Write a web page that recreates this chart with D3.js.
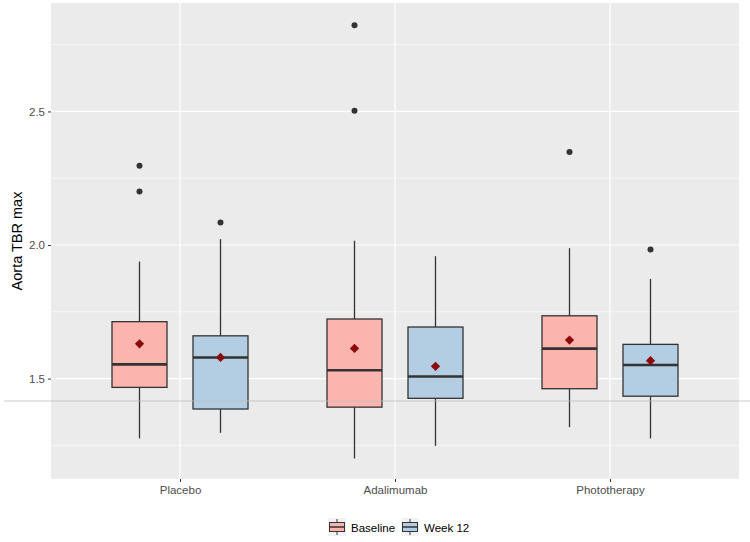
<!DOCTYPE html>
<html><head><meta charset="utf-8">
<script src="https://cdn.jsdelivr.net/npm/d3@7"></script>
<style>body{margin:0;background:#fff}svg{display:block;font-family:"Liberation Sans",Arial,Helvetica,sans-serif}</style>
</head><body><svg id="c" width="750" height="542"></svg>
<script>
const categories = ["Placebo","Adalimumab","Phototherapy"];
const groups = ["Baseline","Week 12"];
const groupColors = ["#FBB4AE","#B3CDE3"];
// per category x group: [whiskerLow, q1, median, q3, whiskerHigh]
const baselineStats = [[1.276,1.467,1.553,1.713,1.938],[1.201,1.393,1.531,1.723,2.016],[1.318,1.462,1.612,1.735,1.988]];
const week12Stats   = [[1.297,1.386,1.579,1.660,2.022],[1.248,1.426,1.508,1.693,1.958],[1.276,1.434,1.551,1.628,1.873]];
const baselineMeans = [1.630,1.613,1.644];
const week12Means   = [1.579,1.546,1.567];
const baselineOutliers = [[2.297,2.200],[2.823,2.503],[2.348]];
const week12Outliers   = [[2.084],[],[1.983]];
const yTicks = [1.5,2.0,2.5];
const yMinor = [1.25,1.75,2.25,2.75];
const yTitle = "Aorta TBR max";
const artifactLine = 1.416;

const svg = d3.select("#c");
const L=51,R=739,T=3,B=479;
const x = d3.scalePoint().domain(categories).range([L,R]).padding(0.6);
const xg = d3.scalePoint().domain(groups).range([-40.5,40.5]);
const y = d3.scaleLinear().domain([1.124,2.906]).range([B,T]);
const color = d3.scaleOrdinal().domain(groups).range(groupColors);
const bw = 55;

svg.append("rect").attr("x",L).attr("y",T).attr("width",R-L).attr("height",B-T).attr("fill","#EBEBEB");
svg.append("g").selectAll("line").data(yMinor).join("line")
  .attr("x1",L).attr("x2",R).attr("y1",d=>y(d)).attr("y2",d=>y(d)).attr("stroke","#fff").attr("stroke-width",0.6);
svg.append("g").selectAll("line").data(yTicks).join("line")
  .attr("x1",L).attr("x2",R).attr("y1",d=>y(d)).attr("y2",d=>y(d)).attr("stroke","#fff").attr("stroke-width",1.2);
svg.append("g").selectAll("line").data(categories).join("line")
  .attr("x1",d=>x(d)).attr("x2",d=>x(d)).attr("y1",T).attr("y2",B).attr("stroke","#fff").attr("stroke-width",1.2);

// axes
const ya = svg.append("g").attr("transform",`translate(${L},0)`)
  .call(d3.axisLeft(y).tickValues(yTicks).tickFormat(d3.format(".1f")).tickSize(3).tickPadding(3));
ya.select(".domain").remove();
ya.selectAll("line").attr("stroke","#333");
ya.selectAll("text").attr("fill","#4D4D4D").attr("font-size",11.5);
const xa = svg.append("g").attr("transform",`translate(0,${B})`)
  .call(d3.axisBottom(x).tickSize(3).tickPadding(4));
xa.select(".domain").remove();
xa.selectAll("line").attr("stroke","#333");
xa.selectAll("text").attr("fill","#4D4D4D").attr("font-size",11.5);

svg.append("text").attr("transform",`translate(22,${(T+B)/2}) rotate(-90)`)
  .attr("text-anchor","middle").attr("font-size",14.5).attr("fill","#000").text(yTitle);

// boxes
const data = [];
categories.forEach((c,i)=>{
  data.push({cat:c,grp:groups[0],s:baselineStats[i],m:baselineMeans[i],o:baselineOutliers[i]});
  data.push({cat:c,grp:groups[1],s:week12Stats[i],m:week12Means[i],o:week12Outliers[i]});
});
const g = svg.append("g").selectAll("g").data(data).join("g")
  .attr("transform",d=>`translate(${x(d.cat)+xg(d.grp)},0)`);
g.append("line").attr("y1",d=>y(d.s[0])).attr("y2",d=>y(d.s[1])).attr("stroke","#333").attr("stroke-width",1.3);
g.append("line").attr("y1",d=>y(d.s[3])).attr("y2",d=>y(d.s[4])).attr("stroke","#333").attr("stroke-width",1.3);
g.append("rect").attr("x",-bw/2).attr("width",bw).attr("y",d=>y(d.s[3])).attr("height",d=>y(d.s[1])-y(d.s[3]))
  .attr("fill",d=>color(d.grp)).attr("stroke","#333").attr("stroke-width",1.3);
g.append("line").attr("x1",-bw/2).attr("x2",bw/2).attr("y1",d=>y(d.s[2])).attr("y2",d=>y(d.s[2])).attr("stroke","#333").attr("stroke-width",2.6);
g.selectAll("circle").data(d=>d.o).join("circle").attr("r",3).attr("cy",d=>y(d)).attr("fill","#333");
g.append("path").attr("d",d3.symbol(d3.symbolDiamond2,55)).attr("transform",d=>`translate(0,${y(d.m)})`).attr("fill","#8B0A0A");

// artifact line
svg.append("line").attr("x1",4).attr("x2",750).attr("y1",y(artifactLine)).attr("y2",y(artifactLine)).attr("stroke","#BDBDBD").attr("stroke-width",0.8);

// legend
const lg = svg.append("g").attr("transform","translate(328,518)");
const items = lg.selectAll("g").data(groups).join("g").attr("transform",(d,i)=>`translate(${i*73},0)`);
items.append("rect").attr("width",18).attr("height",18).attr("fill","#F2F2F2");
items.append("line").attr("x1",9).attr("x2",9).attr("y1",1).attr("y2",17).attr("stroke","#333").attr("stroke-width",1);
items.append("rect").attr("x",1.5).attr("y",4.5).attr("width",15).attr("height",9).attr("fill",d=>color(d)).attr("stroke","#333").attr("stroke-width",1);
items.append("line").attr("x1",1.5).attr("x2",16.5).attr("y1",9).attr("y2",9).attr("stroke","#333").attr("stroke-width",1.5);
items.append("text").attr("x",23).attr("y",13.5).attr("font-size",11.5).attr("fill","#000").text(d=>d);
</script></body></html>
